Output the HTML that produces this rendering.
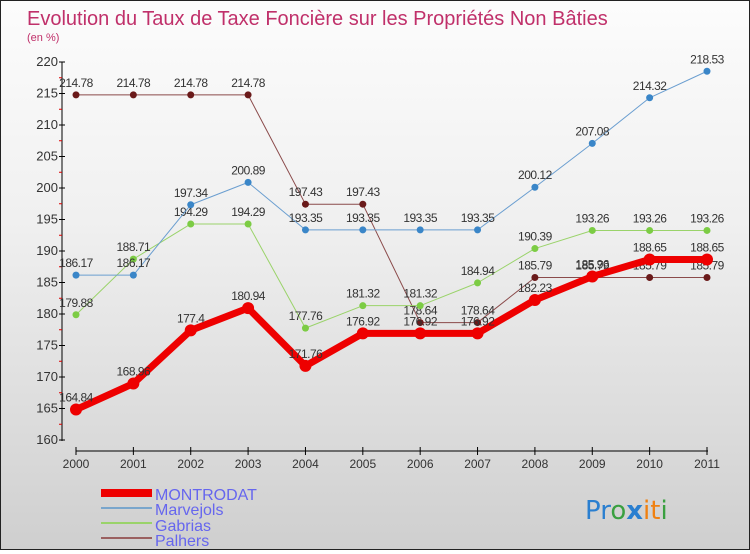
<!DOCTYPE html>
<html><head><meta charset="utf-8"><style>
body{margin:0}
#c{width:748px;height:548px;border:1px solid #222;background:linear-gradient(#fcfcfc,#f0f0f0 40%,#cfcfcf);position:relative;font-family:"Liberation Sans",sans-serif}
</style></head><body>
<div id="c">
<svg id="s" width="748" height="548" xmlns="http://www.w3.org/2000/svg" font-family="Liberation Sans, sans-serif">
<text x="26" y="24" font-size="20" fill="#c0306a">Evolution du Taux de Taxe Foncière sur les Propriétés Non Bâties</text>
<text x="26" y="40" font-size="11" fill="#c0306a">(en %)</text>
<g id="axes"></g><g id="series"></g>
<g font-size="16" fill="#6666ee">
<rect x="100" y="488" width="51" height="8" fill="#e00"/>
<text x="154" y="499">MONTRODAT</text>
<rect x="100" y="506" width="51" height="2" fill="#7aa6cc"/>
<text x="154" y="514">Marvejols</text>
<rect x="100" y="521" width="51" height="2" fill="#9ad36a"/>
<text x="154" y="530">Gabrias</text>
<rect x="100" y="536" width="51" height="2" fill="#9a6060"/>
<text x="154" y="545">Palhers</text>
</g>
<text x="584" y="518" font-size="26" font-family="'DejaVu Sans',sans-serif"><tspan fill="#2a7fd0">Pr</tspan><tspan fill="#3aa040">o</tspan><tspan fill="#2a7fd0" font-weight="bold">x</tspan><tspan fill="#f08010">it</tspan><tspan fill="#3aa040">i</tspan></text>
</svg></div>
<script>
const years=["2000","2001","2002","2003","2004","2005","2006","2007","2008","2009","2010","2011"];
const yTicks=[160,165,170,175,180,185,190,195,200,205,210,215,220];
const montrodat=[164.84,168.96,177.4,180.94,171.76,176.92,176.92,176.92,182.23,185.96,188.65,188.65];
const marvejols=[186.17,186.17,197.34,200.89,193.35,193.35,193.35,193.35,200.12,207.08,214.32,218.53];
const gabrias=[179.88,188.71,194.29,194.29,177.76,181.32,181.32,184.94,190.39,193.26,193.26,193.26];
const palhers=[214.78,214.78,214.78,214.78,197.43,197.43,178.64,178.64,185.79,185.79,185.79,185.79];
const NS="http://www.w3.org/2000/svg";
const X=i=>75+i*(706-75)/11;
const Y=v=>439-(v-160)*(439-61)/60;
function mk(t,a,p){const e=document.createElementNS(NS,t);for(const k in a)e.setAttribute(k,a[k]);p.appendChild(e);return e;}
const ax=document.getElementById('axes');
let e=mk('line',{x1:61,y1:61,x2:61,y2:440,stroke:'#000','stroke-width':1},ax);


yTicks.forEach((v,i)=>{
 let t=mk('line',{x1:58,y1:Y(v),x2:64,y2:Y(v),stroke:'#000'},ax);
 
 
 if(i<yTicks.length-1){let m=mk('line',{x1:58,y1:Y(v+2.5),x2:61,y2:Y(v+2.5),stroke:'#d00'},ax);
 
 }
 let l=mk('text',{x:57,y:Y(v)+4,'text-anchor':'end','font-size':13,fill:'#333'},ax);l.textContent=v;
 
 
});
e=mk('line',{x1:75,y1:450,x2:707,y2:450,stroke:'#000'},ax);


years.forEach((y,i)=>{
 let t=mk('line',{x1:X(i),y1:446,x2:X(i),y2:454,stroke:'#000'},ax);
 
 
 let l=mk('text',{x:X(i),y:467,'text-anchor':'middle','font-size':12,fill:'#333'},ax);l.textContent=y;
 
 
});
const sg=document.getElementById('series');
function series(name,data,col,dot,w,r){
 const g=mk('g',{},sg);
 
 
 let p=mk('polyline',{points:data.map((v,i)=>X(i)+','+Y(v)).join(' '),fill:'none',stroke:col,'stroke-width':w,'stroke-linejoin':'round'},g);
 
 
 data.forEach((v,i)=>{
  let c=mk('circle',{cx:X(i),cy:Y(v),r:r,fill:dot},g);
  
  
  let l=mk('text',{x:X(i),y:Y(v)-8,'text-anchor':'middle','font-size':12,fill:'#333','letter-spacing':'-0.5'},g);
  l.textContent=String(v);
  
  
 });
}
series('palhers',palhers,'#8a4a4a','#6a1a1a',1,3.5);
series('gabrias',gabrias,'#9ad36a','#7ccc44',1,3.5);
series('marvejols',marvejols,'#6a9ed0','#3a86c8',1,3.5);
series('montrodat',montrodat,'#ee0000','#ee0000',7,6);
</script>
</body></html>
